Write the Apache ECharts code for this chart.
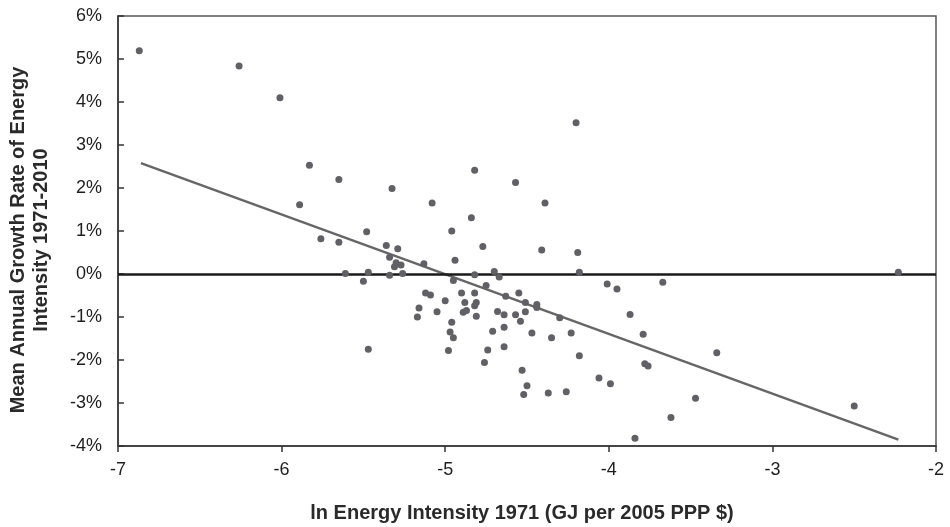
<!DOCTYPE html>
<html>
<head>
<meta charset="utf-8">
<script src="https://cdn.jsdelivr.net/npm/echarts@6/dist/echarts.min.js"></script>
<style>
html,body{margin:0;padding:0;background:#fff;}
#chart{width:950px;height:527px;}
</style>
</head>
<body>
<div id="chart"></div>
<script>
// ln energy intensity 1971 (x) values of each country
const xValues = [
  -6.87,-6.26,-6.01,-5.83,-5.65,-5.89,-4.20,-5.325,-4.82,-4.57,
  -5.08,-4.39,-4.84,-5.76,-5.65,-5.48,-4.96,-5.36,-5.29,-4.77,
  -4.41,-4.19,-5.34,-5.30,-5.31,-5.27,-5.13,-4.94,-5.61,-5.47,
  -5.34,-5.26,-5.50,-4.82,-4.70,-4.67,-4.95,-4.75,-4.18,-5.12,
  -5.09,-4.90,-4.82,-5.00,-4.88,-4.81,-4.82,-4.63,-4.55,-4.51,
  -4.44,-4.44,-5.16,-5.17,-5.05,-4.89,-4.87,-4.81,-4.68,-4.64,
  -4.57,-4.51,-5.47,-4.54,-4.96,-4.97,-4.95,-4.98,-4.71,-4.64,
  -4.64,-4.74,-4.76,-4.47,-4.35,-4.23,-4.18,-4.53,-4.50,-4.52,
  -4.37,-4.26,-4.30,-2.23,-4.01,-3.95,-3.67,-3.87,-3.79,-3.34,
  -3.78,-3.76,-4.06,-3.99,-3.47,-2.50,-3.62,-3.84
];
// mean annual growth rate of energy intensity 1971-2010 (%)
const yValues = [
  5.19,4.84,4.10,2.53,2.20,1.61,3.52,1.99,2.41,2.13,
  1.65,1.65,1.31,0.82,0.74,0.98,1.00,0.66,0.59,0.64,
  0.56,0.50,0.39,0.26,0.17,0.21,0.24,0.32,0.01,0.04,
  -0.03,0.01,-0.17,-0.02,0.06,-0.07,-0.15,-0.27,0.04,-0.44,
  -0.49,-0.44,-0.44,-0.62,-0.66,-0.66,-0.74,-0.52,-0.44,-0.66,
  -0.71,-0.78,-0.79,-1.00,-0.88,-0.89,-0.85,-0.98,-0.87,-0.95,
  -0.95,-0.88,-1.75,-1.10,-1.12,-1.35,-1.48,-1.78,-1.33,-1.24,
  -1.69,-1.77,-2.06,-1.37,-1.48,-1.37,-1.90,-2.24,-2.60,-2.80,
  -2.77,-2.74,-1.02,0.04,-0.23,-0.35,-0.19,-0.94,-1.40,-1.83,
  -2.09,-2.14,-2.42,-2.55,-2.89,-3.07,-3.34,-3.82
];
// fitted trend line end points
const trendX = [-6.86, -2.23];
const trendY = [2.58, -3.85];
// axes
const xTicks = {min: -7, max: -2, interval: 1};
const yTicks = {min: -4, max: 6, interval: 1};
const xTitle = 'ln Energy Intensity 1971 (GJ per 2005 PPP $)';
const yTitle = 'Mean Annual Growth Rate of Energy\nIntensity 1971-2010';

const points = xValues.map((x, i) => [x, yValues[i]]);
const trend = trendX.map((x, i) => [x, trendY[i]]);

const chart = echarts.init(document.getElementById('chart'), null, {renderer: 'canvas'});
const font = '"Liberation Sans", Arial, Helvetica, sans-serif';
chart.setOption({
  animation: false,
  backgroundColor: '#fff',
  grid: {
    left: 118, right: 14, top: 16, bottom: 81,
    show: true, borderColor: '#555', borderWidth: 1.5, backgroundColor: 'transparent'
  },
  graphic: [
    {
      type: 'text', left: null, x: 522, y: 513, z: 10,
      style: {
        text: xTitle, font: 'bold 20px ' + font, fill: '#2a2a2a',
        textAlign: 'center', textVerticalAlign: 'middle'
      }
    },
    {
      type: 'text', x: 30, y: 240, rotation: Math.PI / 2, z: 10,
      style: {
        text: yTitle, font: 'bold 20px ' + font, fill: '#2a2a2a',
        textAlign: 'center', textVerticalAlign: 'middle', lineHeight: 23
      }
    }
  ],
  xAxis: {
    type: 'value',
    min: xTicks.min, max: xTicks.max, interval: xTicks.interval,
    axisLine: {show: true, onZero: false, lineStyle: {color: '#333', width: 1.5}},
    axisTick: {show: true, inside: false, length: 6, lineStyle: {color: '#333', width: 1.5}},
    axisLabel: {fontFamily: font, fontSize: 18, color: '#1e1e1e', margin: 15},
    splitLine: {show: false}
  },
  yAxis: {
    type: 'value',
    min: yTicks.min, max: yTicks.max, interval: yTicks.interval,
    axisLine: {show: true, lineStyle: {color: '#333', width: 1.5}},
    axisTick: {show: true, inside: true, length: 6, lineStyle: {color: '#333', width: 1.5}},
    axisLabel: {fontFamily: font, fontSize: 18, color: '#1e1e1e', margin: 16, formatter: '{value}%'},
    splitLine: {show: false}
  },
  series: [
    {
      type: 'line',
      data: trend,
      symbol: 'none',
      lineStyle: {color: '#666', width: 2.5},
      z: 2,
      markLine: {
        silent: true, symbol: 'none', label: {show: false},
        lineStyle: {color: '#1a1a1a', width: 2.5, type: 'solid'},
        data: [{yAxis: 0}]
      }
    },
    {
      type: 'scatter',
      data: points,
      symbol: 'circle',
      symbolSize: 7,
      itemStyle: {color: '#606066', opacity: 1},
      z: 5
    }
  ]
});
</script>
</body>
</html>
